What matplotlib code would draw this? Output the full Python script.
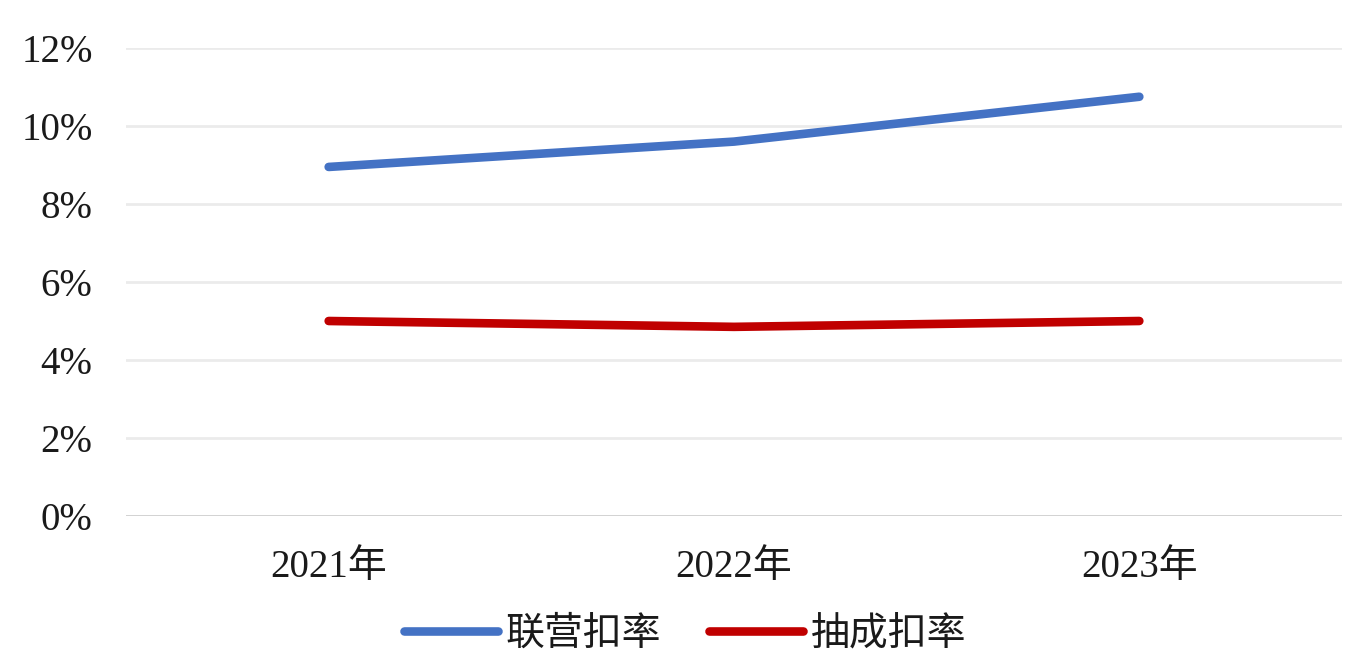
import matplotlib
matplotlib.use("Agg")
import matplotlib.pyplot as plt
from matplotlib.ticker import FuncFormatter

plt.rcParams['font.family'] = ['Liberation Serif', 'Noto Sans CJK SC', 'DejaVu Sans']

years = ['2021年', '2022年', '2023年']
series_names = ['联营扣率', '抽成扣率']
lianying = [8.95, 9.6, 10.75]
choucheng = [5.0, 4.85, 5.0]
colors = ['#4472C4', '#C00000']

fig = plt.figure(figsize=(13.62, 6.72), dpi=100)
ax = fig.add_axes([126/1362, 1-516/672, (1342-126)/1362, (516-48)/672])

x = list(range(len(years)))
for vals, name, c in zip([lianying, choucheng], series_names, colors):
    ax.plot(x, vals, color=c, lw=6.2, solid_capstyle='round', solid_joinstyle='round', label=name)

ax.set_xlim(-0.5, len(years) - 0.5)
ax.set_ylim(0, 12)
ax.set_yticks(range(0, 13, 2))
ax.yaxis.set_major_formatter(FuncFormatter(lambda v, p: f'{int(v)}%'))
ax.set_xticks(x)
ax.set_xticklabels(years)
ax.grid(axis='y', color='#EBEBEB', lw=2)
ax.set_axisbelow(True)
for s in ['top', 'right', 'left', 'bottom']:
    ax.spines[s].set_visible(False)
ax.axhline(0, color='#D0D0D0', lw=2, zorder=1)
ax.tick_params(axis='both', length=0, labelsize=28, colors='#1a1a1a')
ax.tick_params(axis='y', pad=24)
ax.tick_params(axis='x', pad=24)

fig.legend(loc='center', bbox_to_anchor=(0.503, 1-635/672), ncol=2, frameon=False,
           fontsize=28, handlelength=2.4, handletextpad=0.2, columnspacing=1.25,
           labelcolor='#1a1a1a')

fig.savefig('out.png', dpi=100)
